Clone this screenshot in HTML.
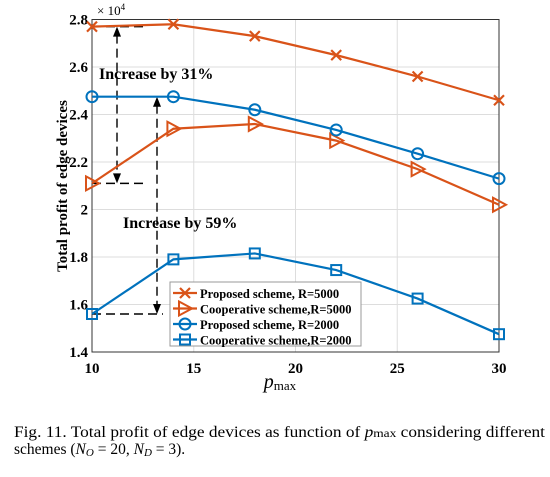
<!DOCTYPE html>
<html><head><meta charset="utf-8"><style>
body{margin:0;background:#fff;width:550px;height:472px;overflow:hidden;font-family:"Liberation Serif",serif}
svg text{font-family:"Liberation Serif",serif}
</style></head><body>
<svg width="550" height="472">
<g id="grid"></g>
<g id="axes"></g>
<g id="annot"></g>
<g id="series"></g>
<g id="legend"></g>
<text x="97" y="15" font-size="13">× 10<tspan dy="-5" font-size="9">4</tspan></text>
<text transform="translate(67,186) rotate(-90)" text-anchor="middle" font-size="15" font-weight="bold">Total profit of edge devices</text>
<text x="280" y="388" text-anchor="middle" font-size="20" font-style="italic">p<tspan font-size="13" font-style="normal" dy="2">max</tspan></text>
<text x="14" y="437" font-size="15.5" textLength="531" lengthAdjust="spacingAndGlyphs">Fig. 11.   Total profit of edge devices as function of <tspan font-style="italic">p</tspan><tspan font-size="12">max</tspan> considering different</text>
<text x="14" y="454" font-size="15.5">schemes (<tspan font-style="italic">N<tspan font-size="11" dy="2">O</tspan></tspan><tspan dy="-2"> = 20, </tspan><tspan font-style="italic">N<tspan font-size="11" dy="2">D</tspan></tspan><tspan dy="-2"> = 3).</tspan></text>
</svg>
<script>
const xCats=[10,14,18,22,26,30];
const propR5000=[2.77,2.78,2.73,2.65,2.56,2.46];
const coopR5000=[2.11,2.34,2.36,2.29,2.17,2.02];
const propR2000=[2.475,2.475,2.42,2.335,2.235,2.13];
const coopR2000=[1.56,1.79,1.815,1.745,1.625,1.475];
const xTicks=[10,15,20,25,30];
const yTicks=[1.4,1.6,1.8,2,2.2,2.4,2.6,2.8];
const yTickLabels=["1.4","1.6","1.8","2","2.2","2.4","2.6","2.8"];
const legendLabels=["Proposed scheme, R=5000","Cooperative scheme,R=5000","Proposed scheme, R=2000","Cooperative scheme,R=2000"];
const NS="http://www.w3.org/2000/svg";
const X0=92,X1=499,Y0=352,Y1=19.5;
const sx=v=>X0+(v-10)/(20)*(X1-X0);
const sy=v=>Y0-(v-1.4)/1.4*(Y0-Y1);
function mk(p,t,a){const e=document.createElementNS(NS,t);for(const k in a)e.setAttribute(k,a[k]);p.appendChild(e);return e;}
const grid=document.getElementById('grid'),axes=document.getElementById('axes'),ser=document.getElementById('series'),ann=document.getElementById('annot'),leg=document.getElementById('legend');
xTicks.forEach(t=>{const l=mk(grid,'line',{x1:sx(t),x2:sx(t),y1:Y1,y2:Y0,stroke:'#ddd','stroke-width':1});

const tx=mk(axes,'text',{x:sx(t),y:Y0+21,'text-anchor':'middle','font-size':15,'font-weight':'bold'});tx.textContent=t;
});
yTicks.forEach((t,i)=>{const l=mk(grid,'line',{x1:X0,x2:X1,y1:sy(t),y2:sy(t),stroke:'#ddd','stroke-width':1});

const tx=mk(axes,'text',{x:X0-4,y:sy(t)+5,'text-anchor':'end','font-size':15,'font-weight':'bold'});tx.textContent=yTickLabels[i];
});
const box=mk(axes,'rect',{x:X0,y:Y1,width:X1-X0,height:Y0-Y1,fill:'none',stroke:'#333','stroke-width':1});

const dash={stroke:'#000','stroke-width':1.4,'stroke-dasharray':'9,5',fill:'none'};
function dl(x1,y1,x2,y2,n){const l=mk(ann,'line',Object.assign({x1,y1,x2,y2},dash));}
function head(x,y,up){const p=mk(ann,'path',{d:up?`M${x},${y} l-4,10 l8,0z`:`M${x},${y} l-4,-10 l8,0z`,fill:'#000'});}
const xa=117,xb=157;
dl(X0,sy(propR5000[0]),143,sy(propR5000[0]),'ref-line-31-top');
dl(X0,sy(coopR5000[0]),143,sy(coopR5000[0]),'ref-line-31-bottom');
dl(xa,sy(propR5000[0])+8,xa,sy(coopR5000[0])-8,'arrow-31');head(xa,sy(propR5000[0]),true);head(xa,sy(coopR5000[0]),false);
dl(X0,sy(propR2000[0]),163,sy(propR2000[0]),'ref-line-59-top');
dl(X0,sy(coopR2000[0]),163,sy(coopR2000[0]),'ref-line-59-bottom');
dl(xb,sy(propR2000[0])+8,xb,sy(coopR2000[0])-8,'arrow-59');head(xb,sy(propR2000[0]),true);head(xb,sy(coopR2000[0]),false);
[[99,79,'Increase by 31%','annotation-31'],[123,228,'Increase by 59%','annotation-59']].forEach(a=>{const t=mk(ann,'text',{x:a[0],y:a[1],'font-size':16,'font-weight':'bold'});t.textContent=a[2];});
const OR='#d95319',BL='#0072bd';
function marker(g,type,x,y,c){
 if(type==='x'){mk(g,'path',{d:`M${x-5},${y-5}L${x+5},${y+5}M${x-5},${y+5}L${x+5},${y-5}`,stroke:c,'stroke-width':2.2,fill:'none'});}
 else if(type==='tri'){mk(g,'path',{d:`M${x-6},${y-7}L${x+7},${y}L${x-6},${y+7}Z`,stroke:c,'stroke-width':2,fill:'none'});}
 else if(type==='o'){mk(g,'circle',{cx:x,cy:y,r:5.5,stroke:c,'stroke-width':2,fill:'none'});}
 else {mk(g,'rect',{x:x-5,y:y-5,width:10,height:10,stroke:c,'stroke-width':2,fill:'none'});}
}
const S=[[propR5000,OR,'x','series-proposed-r5000'],[coopR5000,OR,'tri','series-cooperative-r5000'],[propR2000,BL,'o','series-proposed-r2000'],[coopR2000,BL,'s','series-cooperative-r2000']];
S.forEach(s=>{const g=mk(ser,'g',{});
 mk(g,'polyline',{points:s[0].map((v,i)=>sx(xCats[i])+','+sy(v)).join(' '),fill:'none',stroke:s[1],'stroke-width':2.2});
 s[0].forEach((v,i)=>marker(g,s[2],sx(xCats[i]),sy(v),s[1]));});
const lb=mk(leg,'rect',{x:170,y:282,width:191,height:64,fill:'#fff',stroke:'#999','stroke-width':1});

S.forEach((s,i)=>{const y=290+i*15.5;const g=mk(leg,'g',{});
 mk(g,'line',{x1:173,x2:197,y1:y+3,y2:y+3,stroke:s[1],'stroke-width':2.2});marker(g,s[2],185,y+3,s[1]);
 const t=mk(g,'text',{x:200,y:y+8,'font-size':12.5,'font-weight':'bold'});t.textContent=legendLabels[i];});
</script>
</body></html>
